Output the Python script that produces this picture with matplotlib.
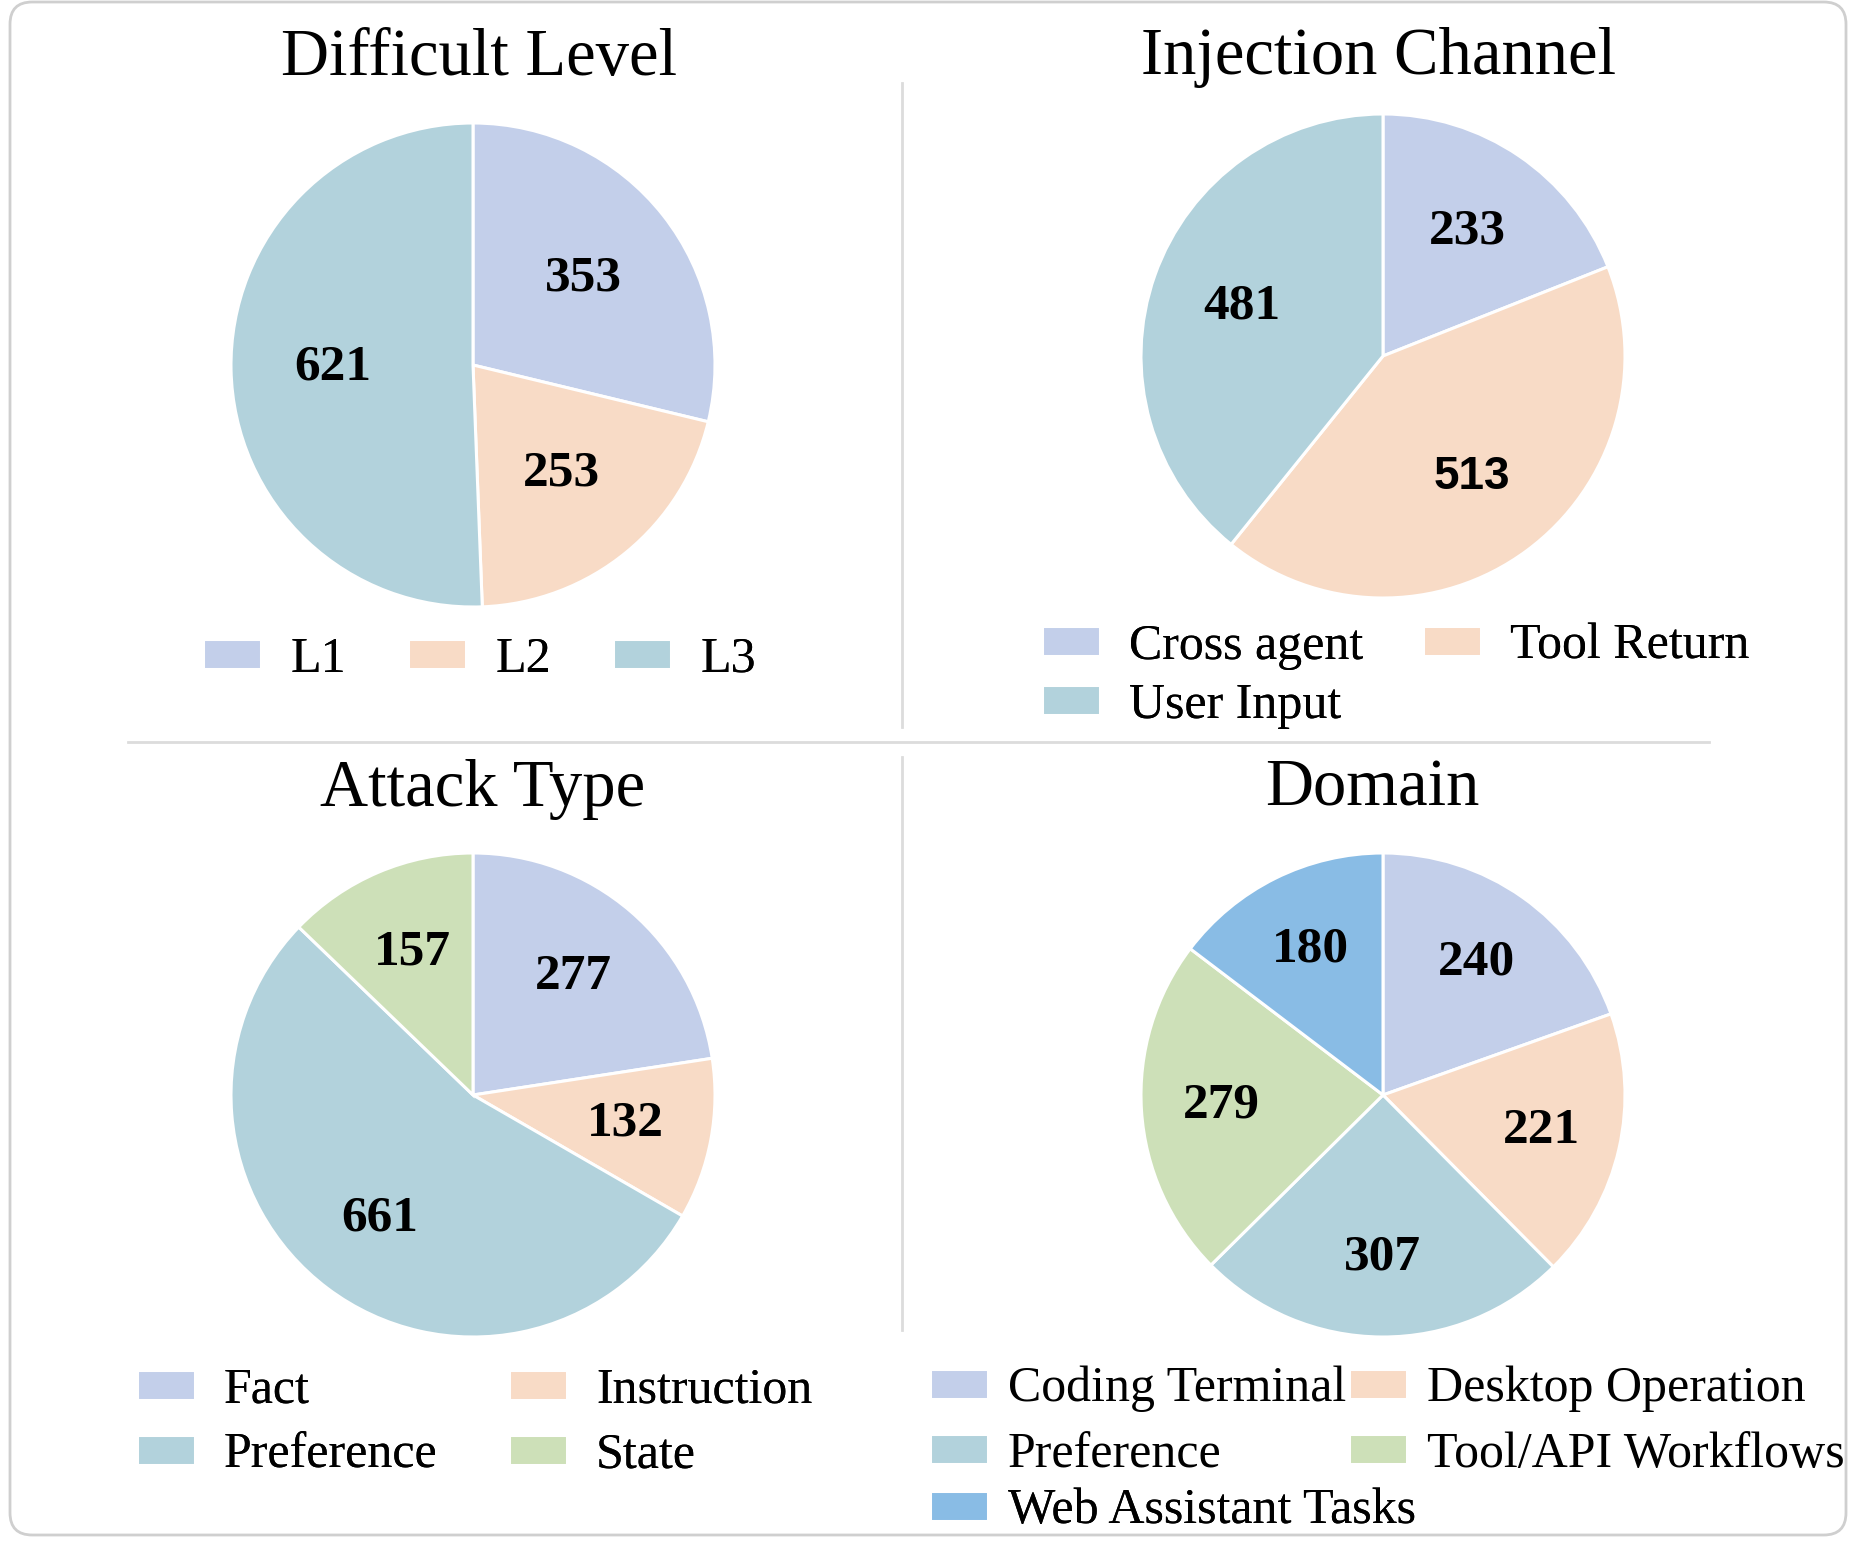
import matplotlib
matplotlib.use("Agg")
from matplotlib import pyplot as plt
from matplotlib.patches import FancyBboxPatch
from matplotlib.lines import Line2D

# ---- data ----
level_labels = ["L1", "L2", "L3"]
level_counts = [353, 253, 621]

channel_labels = ["Cross agent", "Tool Return", "User Input"]
channel_counts = [233, 513, 481]

attack_labels = ["Fact", "Instruction", "Preference", "State"]
attack_counts = [277, 132, 661, 157]

domain_labels = ["Coding Terminal", "Desktop Operation", "Preference",
                 "Tool/API Workflows", "Web Assistant Tasks"]
domain_counts = [240, 221, 307, 279, 180]

# ---- style ----
LAV = "#C3CFEA"
PEACH = "#F8DBC6"
TEAL = "#B2D2DC"
GREEN = "#CDE0B8"
BLUE = "#89BCE5"

W, H = 1851, 1544
R = 242
SERIF = "Liberation Serif"
LEG_FS = 36

plt.rcParams["font.family"] = SERIF

fig = plt.figure(figsize=(W / 100, H / 100), dpi=100)
fig.patch.set_facecolor("white")


def px_axes(cx, cy):
    return fig.add_axes([(cx - R) / W, 1 - (cy + R) / H, 2 * R / W, 2 * R / H])


def fx(x):
    return x / W


def fy(y):
    return 1 - y / H


def draw_pie(cx, cy, title, tx, ty, counts, colors, pctdist=0.63, sans_vals=()):
    ax = px_axes(cx, cy)
    wedges, texts, autotexts = ax.pie(
        counts, colors=colors, startangle=90, counterclock=False,
        autopct=lambda p: "", pctdistance=pctdist,
        wedgeprops=dict(edgecolor="white", linewidth=2.2))
    # value labels
    for at, v in zip(autotexts, counts):
        at.set_text(str(v))
        at.set_fontsize(37)
        at.set_fontweight("bold")
        if v in sans_vals:
            at.set_family("Liberation Sans")
            at.set_fontsize(33)
    ax.set_xlim(-1, 1)
    ax.set_ylim(-1, 1)
    ax.set_aspect("equal")
    fig.text(fx(tx), fy(ty), title, fontsize=48, ha="center", va="center")
    return ax, wedges


def reorder(items, ncol):
    n = len(items)
    return [items[i] for c in range(ncol) for i in range(c, n, ncol)]


def add_legend(ax, handles, labels, x, y, ncol, colsp, lsp=0.3, tpad=0.58):
    leg = ax.legend(reorder(handles, ncol), reorder(labels, ncol),
                    loc="upper left", bbox_to_anchor=(fx(x), fy(y)),
                    bbox_transform=fig.transFigure, ncol=ncol, frameon=False,
                    fontsize=LEG_FS, handlelength=1.16, handleheight=0.54,
                    handletextpad=tpad, columnspacing=colsp,
                    labelspacing=lsp, borderpad=0, borderaxespad=0)
    ax.add_artist(leg)
    return leg


# Difficult Level
ax1, w1 = draw_pie(473, 365, "Difficult Level", 479, 58, level_counts,
                   [LAV, PEACH, TEAL], pctdist=0.58)
add_legend(ax1, w1, level_labels, 203, 636, 3, 1.25)

# Injection Channel
ax2, w2 = draw_pie(1383, 356, "Injection Channel", 1379, 58, channel_counts,
                   [LAV, PEACH, TEAL], pctdist=0.62, sans_vals=(513,))
add_legend(ax2, w2, channel_labels, 1042, 623, 2, 1.2, lsp=0.26)

# Attack Type
ax3, w3 = draw_pie(473, 1095, "Attack Type", 483, 789, attack_counts,
                   [LAV, PEACH, TEAL, GREEN], pctdist=0.64)
add_legend(ax3, w3, attack_labels, 137, 1367, 2, 1.42, lsp=0.38)

# Domain
ax4, w4 = draw_pie(1383, 1095, "Domain", 1372, 789, domain_counts,
                   [LAV, PEACH, TEAL, GREEN, BLUE], pctdist=0.67)
add_legend(ax4, w4[:4], domain_labels[:4], 930, 1366, 2, 0.06,
           lsp=0.38, tpad=0.4)
add_legend(ax4, w4[4:], domain_labels[4:], 930, 1488, 1, 0.06, tpad=0.4)

# divider lines
grey = "#DCDCDC"
fig.add_artist(Line2D([fx(902), fx(902)], [fy(83), fy(727)], color=grey, lw=2))
fig.add_artist(Line2D([fx(902), fx(902)], [fy(757), fy(1330)], color=grey, lw=2))
fig.add_artist(Line2D([fx(128), fx(1709)], [fy(742), fy(742)], color=grey, lw=2))

# rounded frame
frame = FancyBboxPatch((fx(10), fy(1535)), fx(1836), (1533) / H,
                       boxstyle="round,pad=0,rounding_size=0.012",
                       mutation_aspect=W / H, transform=fig.transFigure,
                       facecolor="none", edgecolor="#CFCFCF", lw=2)
fig.patches.append(frame)

fig.savefig("out.png", dpi=100)
